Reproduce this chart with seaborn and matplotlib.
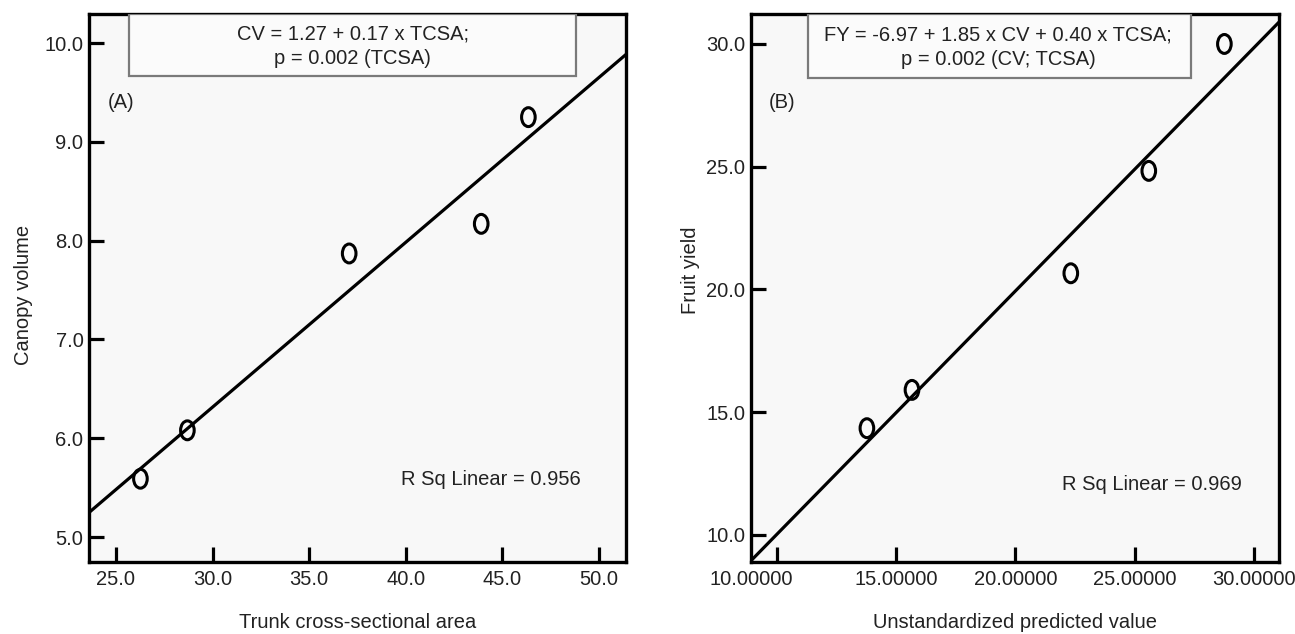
import matplotlib
matplotlib.use("Agg")
import matplotlib.pyplot as plt
import seaborn as sns
import pandas as pd
from matplotlib.path import Path
from matplotlib.transforms import Affine2D, ScaledTranslation
from matplotlib.patches import Rectangle

# ---- data ----
tcsa = [26.27, 28.70, 37.07, 43.90, 46.34]
canopy_volume = [5.59, 6.08, 7.87, 8.17, 9.25]
predicted = [13.77, 15.66, 22.32, 25.59, 28.76]
fruit_yield = [14.35, 15.91, 20.66, 24.83, 30.00]

xticks_a = [25.0, 30.0, 35.0, 40.0, 45.0, 50.0]
yticks_a = [5.0, 6.0, 7.0, 8.0, 9.0, 10.0]
xticks_b = [10.0, 15.0, 20.0, 25.0, 30.0]
yticks_b = [10.0, 15.0, 20.0, 25.0, 30.0]

eq_a = "CV = 1.27 + 0.17 x TCSA;\np = 0.002 (TCSA)"
eq_b = "FY = -6.97 + 1.85 x CV + 0.40 x TCSA;\np = 0.002 (CV; TCSA)"
rsq_a = "R Sq Linear = 0.956"
rsq_b = "R Sq Linear = 0.969"

sns.set_style("white")
plt.rcParams['font.family'] = ['Liberation Sans', 'DejaVu Sans']
FS = 14.5
TXT = "#222222"

df_a = pd.DataFrame({"Trunk cross-sectional area": tcsa, "Canopy volume": canopy_volume})
df_b = pd.DataFrame({"Unstandardized predicted value": predicted, "Fruit yield": fruit_yield})

fig = plt.figure(figsize=(12.95, 6.34), dpi=100)
ax_a = fig.add_axes([89 / 1295, 72 / 634, 537 / 1295, 548 / 634])
ax_b = fig.add_axes([751 / 1295, 72 / 634, 528 / 1295, 548 / 634])

oval = Path.unit_circle().transformed(Affine2D().scale(0.72, 1.0))

panels = [
    (ax_a, df_a, "Trunk cross-sectional area", "Canopy volume", (23.61, 51.39), (4.747, 10.294),
     xticks_a, yticks_a, "{:.1f}", eq_a, (0.0743, 0.907, 0.887), (0.491, 0.941), "(A)",
     rsq_a, (0.916, 0.150), (-0.104, 0.487)),
    (ax_b, df_b, "Unstandardized predicted value", "Fruit yield", (8.91, 31.05), (8.90, 31.22),
     xticks_b, yticks_b, "{:.5f}", eq_b, (0.108, 0.833, 0.883), (0.468, 0.939), "(B)",
     rsq_b, (0.930, 0.142), (-0.0966, 0.533)),
]

for (ax, df, xl, yl, xlim, ylim, xt, yt, xfmt, eq, box, eqpos, tag, rsq, rpos, ylc) in panels:
    ax.set_facecolor("#f8f8f8")
    ax.set_xlim(*xlim)
    ax.set_ylim(*ylim)
    sns.regplot(data=df, x=xl, y=yl, ax=ax, ci=None, truncate=False, color="black",
                marker=oval,
                scatter_kws=dict(facecolors="none", edgecolors="black", s=185,
                                 linewidths=2.2, alpha=1, zorder=3),
                line_kws=dict(color="black", lw=2.3, zorder=2))
    ax.set_xlim(*xlim)
    ax.set_ylim(*ylim)
    ax.set_xticks(xt)
    ax.set_xticklabels([xfmt.format(v) for v in xt])
    ax.set_yticks(yt)
    ax.set_yticklabels(["{:.1f}".format(v) for v in yt])
    ax.tick_params(axis="both", direction="in", length=11, width=2.3, color="black",
                   labelsize=FS, labelcolor=TXT, bottom=True, left=True, top=False, right=False)
    ax.tick_params(axis="x", pad=6)
    ax.tick_params(axis="y", pad=4)
    for sp in ax.spines.values():
        sp.set_visible(True)
        sp.set_color("black")
        sp.set_linewidth(2.4)
    ax.set_xlabel(xl, fontsize=FS, color=TXT)
    ax.set_ylabel(yl, fontsize=FS, color=TXT)
    ax.xaxis.set_label_coords(0.5, -0.093)
    ax.yaxis.set_label_coords(ylc[0], ylc[1])
    ax.xaxis.label.set_va("top")

    x0, x1, yb = box
    ax.add_patch(Rectangle((x0, yb), x1 - x0, 1.0 - yb, transform=ax.transAxes,
                           facecolor="#fbfbfb", edgecolor="#7a7a7a", lw=1.6, zorder=4))
    ax.text(eqpos[0], eqpos[1], eq, transform=ax.transAxes, ha="center", va="center",
            multialignment="center", linespacing=1.35, fontsize=FS, color=TXT, zorder=5)
    ax.text(0.034, 0.839, tag, transform=ax.transAxes, ha="left", va="center",
            fontsize=FS, color=TXT, zorder=5)
    ax.text(rpos[0], rpos[1], rsq, transform=ax.transAxes, ha="right", va="center",
            fontsize=FS, color=TXT, zorder=5)

# shift the first x tick label of panel B to the axis corner, as in the original
first = ax_b.xaxis.get_major_ticks()[0].label1
first.set_transform(first.get_transform() + ScaledTranslation(-0.26, 0, fig.dpi_scale_trans))

fig.savefig("out.png", dpi=100, facecolor="white")
